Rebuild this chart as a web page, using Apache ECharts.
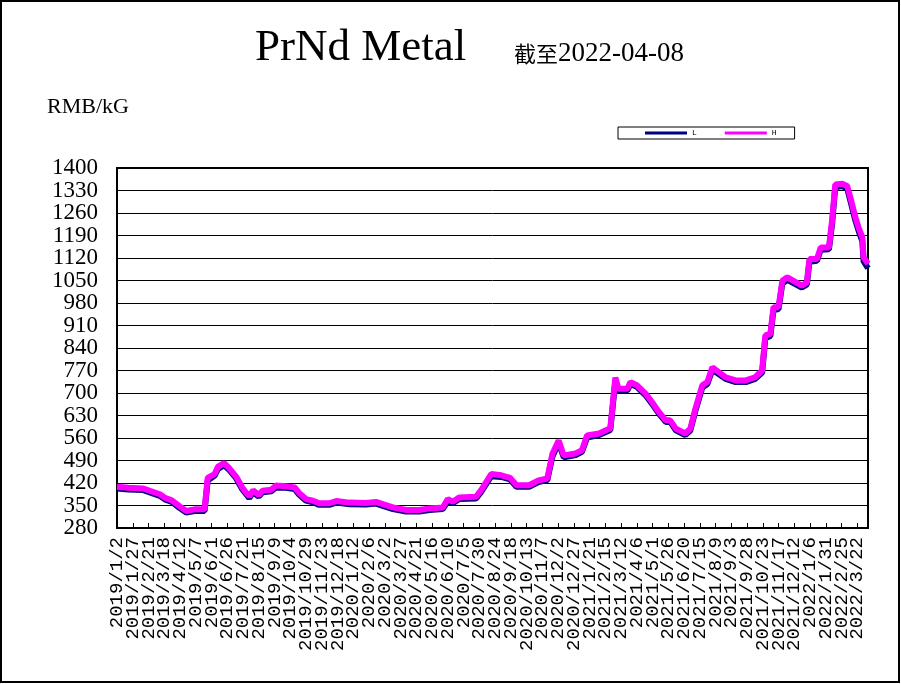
<!DOCTYPE html>
<html><head><meta charset="utf-8">
<script src="https://cdn.jsdelivr.net/npm/echarts@6/dist/echarts.min.js"></script>
<style>html,body{margin:0;padding:0;background:#fff}#c{width:901px;height:684px}</style>
</head><body><div id="c"></div>
<script>
const dates = ['2019-01-02','2019-01-20','2019-02-13','2019-02-23','2019-03-11','2019-03-19','2019-03-30','2019-04-11','2019-04-22','2019-05-05','2019-05-21','2019-05-26','2019-06-06','2019-06-11','2019-06-21','2019-06-29','2019-07-10','2019-07-20','2019-07-31','2019-08-06','2019-08-15','2019-08-21','2019-09-04','2019-09-11','2019-09-27','2019-10-11','2019-10-18','2019-10-29','2019-11-09','2019-11-19','2019-12-05','2019-12-16','2020-01-06','2020-02-01','2020-02-17','2020-02-28','2020-03-15','2020-04-05','2020-04-26','2020-05-12','2020-06-02','2020-06-10','2020-06-18','2020-06-28','2020-07-25','2020-08-02','2020-08-18','2020-09-03','2020-09-17','2020-09-27','2020-10-17','2020-11-01','2020-11-15','2020-11-23','2020-12-03','2020-12-11','2020-12-30','2021-01-09','2021-01-17','2021-02-05','2021-02-23','2021-03-03','2021-03-08','2021-03-22','2021-03-27','2021-04-06','2021-04-20','2021-04-30','2021-05-11','2021-05-22','2021-05-29','2021-06-07','2021-06-22','2021-06-30','2021-07-08','2021-07-19','2021-07-27','2021-08-04','2021-08-14','2021-08-25','2021-09-10','2021-09-26','2021-10-11','2021-10-22','2021-10-27','2021-11-04','2021-11-09','2021-11-17','2021-11-23','2021-12-01','2021-12-24','2022-01-01','2022-01-05','2022-01-17','2022-01-23','2022-02-05','2022-02-10','2022-02-15','2022-02-26','2022-03-06','2022-03-11','2022-03-19','2022-03-24','2022-03-30','2022-04-01','2022-04-08'];
const hValues = [408,405,403,396,385,374,366,348,333,338,338,436,448,470,482,466,440,405,378,397,383,396,399,412,410,406,389,370,365,357,357,364,359,358,361,354,344,336,336,341,344,370,362,375,377,398,448,444,436,413,413,428,434,510,552,506,512,522,568,574,590,748,713,713,734,724,698,672,641,615,615,589,574,589,651,724,734,780,765,749,739,739,749,770,879,884,967,967,1049,1060,1034,1044,1117,1117,1153,1153,1236,1349,1351,1344,1308,1246,1215,1184,1122,1102];
const lValues = [403,400,398,391,380,369,361,343,328,333,333,428,443,463,476,461,435,400,373,391,378,391,394,406,405,401,384,365,360,352,352,359,354,353,356,349,339,331,331,336,339,363,357,370,372,392,441,439,431,408,408,423,429,502,545,500,507,517,561,569,585,738,707,708,728,719,693,667,636,610,610,584,569,583,644,717,728,772,759,744,734,734,744,764,870,877,958,961,1040,1052,1028,1038,1108,1111,1146,1147,1226,1340,1344,1336,1298,1236,1205,1172,1110,1088];
const yTickLabels = [280,350,420,490,560,630,700,770,840,910,980,1050,1120,1190,1260,1330,1400];
const xTickLabels = ['2019/1/2','2019/1/27','2019/2/21','2019/3/18','2019/4/12','2019/5/7','2019/6/1','2019/6/26','2019/7/21','2019/8/15','2019/9/9','2019/10/4','2019/10/29','2019/11/23','2019/12/18','2020/1/12','2020/2/6','2020/3/2','2020/3/27','2020/4/21','2020/5/16','2020/6/10','2020/7/5','2020/7/30','2020/8/24','2020/9/18','2020/10/13','2020/11/7','2020/12/2','2020/12/27','2021/1/21','2021/2/15','2021/3/12','2021/4/6','2021/5/1','2021/5/26','2021/6/20','2021/7/15','2021/8/9','2021/9/3','2021/9/28','2021/10/23','2021/11/17','2021/12/12','2022/1/6','2022/1/31','2022/2/25','2022/3/22'];
const seriesNames = ['L','H'];

const DAY = 86400000;
function dayIndex(s){const p=s.split('-').map(Number);return (Date.UTC(p[0],p[1]-1,p[2])-Date.UTC(2019,0,2))/DAY;}
const xEnd = dayIndex('2022-04-08');
const lData = dates.map((d,i)=>[dayIndex(d), lValues[i]]);
const hData = dates.map((d,i)=>[dayIndex(d), hValues[i]]);
const xTickPos = xTickLabels.map((_,i)=>i*25);
const xEven = xTickPos.filter((_,i)=>i%2===0), xOdd = xTickPos.filter((_,i)=>i%2===1);
const yEven = yTickLabels.filter((_,i)=>i%2===0), yOdd = yTickLabels.filter((_,i)=>i%2===1);

const serif = 'Liberation Serif';
function xAx(vals, main){
  return {
    type:'value', min:0, max:xEnd, interval:25, position:'bottom', offset:0,
    axisLine:{show:main, lineStyle:{color:'#000', width:2}},
    axisTick:{show:main, inside:true, length:5, lineStyle:{color:'#000', width:1}},
    splitLine:{show:false},
    axisLabel:{rotate:90, margin:9, fontFamily:'Liberation Mono', fontSize:19, color:'#000',
      customValues:vals, showMinLabel:true, showMaxLabel:true,
      formatter:function(v){ return xTickLabels[Math.round(v/25)]||''; }}
  };
}
function yAx(vals, main){
  return {
    type:'value', min:yTickLabels[0], max:yTickLabels[yTickLabels.length-1], interval:70, position:'left', offset:0,
    axisLine:{show:main, lineStyle:{color:'#000', width:2}},
    axisTick:{show:false},
    splitLine:{show:main, lineStyle:{color:'#000', width:1}},
    axisLabel:{margin:19, fontFamily:serif, fontSize:23, color:'#000',
      customValues:vals, showMinLabel:true, showMaxLabel:true,
      formatter:function(v){ return String(v); }}
  };
}
const chart = echarts.init(document.getElementById('c'), null, {renderer:'canvas'});
chart.setOption({
  animation:false,
  backgroundColor:'#fff',
  title:[
    {text:'PrNd Metal', left:250, top:21, textStyle:{fontFamily:serif, fontSize:45, fontWeight:'normal', color:'#000'}},
    {text:'{a|截至}{b|2022-04-08}', left:509, top:35, textStyle:{fontWeight:'normal', rich:{
      a:{fontFamily:'Noto Sans CJK SC', fontSize:22, fontWeight:'normal', color:'#000'},
      b:{fontFamily:serif, fontSize:27, fontWeight:'normal', color:'#000'}}}},
    {text:'RMB/kG', left:42, top:91, textStyle:{fontFamily:serif, fontSize:22, fontWeight:'normal', color:'#000'}}
  ],
  legend:{
    data:seriesNames, left:618, top:127, icon:'rect', itemWidth:42, itemHeight:3, itemGap:28,
    padding:[1,18,1,27], borderColor:'#000', borderWidth:1, backgroundColor:'#fff',
    textStyle:{fontFamily:'Liberation Mono', fontSize:8, lineHeight:10, color:'#000'}
  },
  grid:{left:117, right:33, top:168, bottom:156, show:true, borderColor:'#000', borderWidth:2, containLabel:false},
  xAxis:[xAx(xEven,true), xAx(xOdd,false)],
  yAxis:[yAx(yEven,true), yAx(yOdd,false)],
  series:[
    {name:'L', type:'line', data:lData, symbol:'none', lineStyle:{color:'#000080', width:6}, itemStyle:{color:'#000080'}, z:2},
    {name:'H', type:'line', data:hData, symbol:'none', lineStyle:{color:'#ff00ff', width:6}, itemStyle:{color:'#ff00ff'}, z:3}
  ],
  graphic:[{type:'rect', shape:{x:1,y:1,width:898,height:681}, style:{fill:null, stroke:'#000', lineWidth:2}, silent:true, z:100}]
});
</script></body></html>
